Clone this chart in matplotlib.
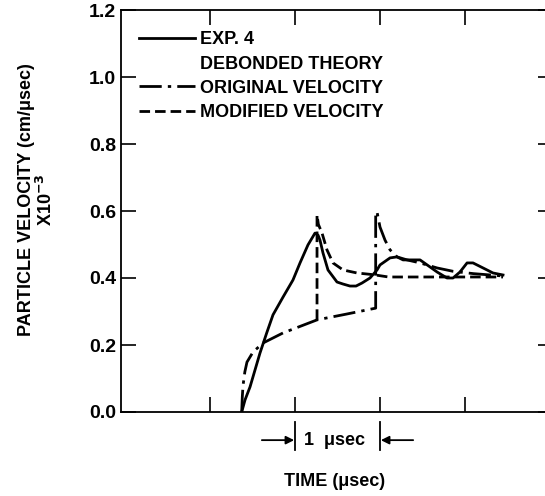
import matplotlib
matplotlib.use("Agg")
import matplotlib.pyplot as plt
from matplotlib.lines import Line2D

plt.rcParams['font.family'] = ['Liberation Sans', 'DejaVu Sans']
plt.rcParams['font.weight'] = 'bold'

# experiment 4 (time in usec, velocity x1e-3 cm/usec)
t_exp = [1.373, 1.412, 1.471, 1.529, 1.588, 1.667, 1.741, 1.859, 1.976, 2.059,
         2.153, 2.2, 2.235, 2.271, 2.294, 2.329, 2.388, 2.494, 2.565, 2.647,
         2.718, 2.788, 2.882, 2.965, 3.0, 3.118, 3.2, 3.271, 3.471, 3.588,
         3.671, 3.788, 3.859, 3.941, 4.024, 4.094, 4.212, 4.329, 4.447]
v_exp = [0.0, 0.036, 0.075, 0.125, 0.176, 0.236, 0.290, 0.343, 0.394, 0.445,
         0.499, 0.519, 0.534, 0.528, 0.513, 0.475, 0.424, 0.388, 0.382, 0.376,
         0.376, 0.385, 0.400, 0.424, 0.439, 0.460, 0.463, 0.454, 0.454, 0.433,
         0.418, 0.400, 0.400, 0.418, 0.445, 0.445, 0.430, 0.415, 0.409]

# debonded theory, original velocity
t_orig = [1.373, 1.380, 1.388, 1.41, 1.435, 1.506, 1.624, 1.859, 2.259, 2.6,
          2.949, 2.949, 2.965, 3.0, 3.059, 3.118, 3.2, 3.318, 3.471, 3.671,
          3.859, 4.1, 4.447]
v_orig = [0.0, 0.045, 0.078, 0.12, 0.149, 0.179, 0.206, 0.236, 0.275, 0.292,
          0.310, 0.597, 0.597, 0.552, 0.513, 0.484, 0.463, 0.454, 0.445, 0.430,
          0.420, 0.413, 0.406]

# debonded theory, modified velocity
t_mod = [2.259, 2.259, 2.275, 2.318, 2.376, 2.447, 2.565, 2.729, 2.918, 3.1, 4.447]
v_mod = [0.275, 0.588, 0.560, 0.534, 0.484, 0.445, 0.424, 0.415, 0.410, 0.403, 0.403]

yticks = [0.0, 0.2, 0.4, 0.6, 0.8, 1.0, 1.2]
ytick_labels = ['0.0', '0.2', '0.4', '0.6', '0.8', '1.0', '1.2']
xticks = [1, 2, 3, 4]

dashdot = (8, 2.2, 1.2, 2.2)
dashed = (3.8, 1.8)

fig = plt.figure(figsize=(5.45, 4.96), dpi=100)
ax = fig.add_axes([121 / 545, 84 / 496, 432 / 545, 402 / 496])

ax.plot(t_exp, v_exp, color='black', lw=2.0, solid_joinstyle='round')
ax.plot(t_orig, v_orig, color='black', lw=2.0, dashes=dashdot)
ax.plot(t_mod, v_mod, color='black', lw=2.0, dashes=dashed)

ax.set_xlim(-0.047, 5.035)
ax.set_ylim(0, 1.2)
ax.set_xticks(xticks)
ax.set_yticks(yticks)
ax.set_yticklabels(ytick_labels)
ax.tick_params(axis='both', direction='in', length=11, width=1.2,
               top=True, right=True, labelsize=14, pad=3.5)
ax.tick_params(axis='x', labelbottom=False)
for s in ax.spines.values():
    s.set_linewidth(1.3)

# legend with a heading row for the theory curves
handles = [Line2D([], [], color='black', lw=2.0),
           Line2D([], [], color='none'),
           Line2D([], [], color='black', lw=2.0, dashes=dashdot),
           Line2D([], [], color='black', lw=2.0, dashes=dashed)]
labels = ['EXP. 4', 'DEBONDED THEORY', 'ORIGINAL VELOCITY', 'MODIFIED VELOCITY']
ax.legend(handles, labels, loc='upper left', frameon=False, fontsize=13,
          handlelength=3.1, handletextpad=0.3, labelspacing=0.4,
          bbox_to_anchor=(0.025, 0.965), borderaxespad=0)

# 1 usec scale bracket under the axis
for xb in (2, 3):
    ax.plot([xb, xb], [-0.03, -0.113], color='black', lw=1.3, clip_on=False)
ax.annotate('', xy=(1.99, -0.084), xytext=(1.61, -0.084),
            arrowprops=dict(arrowstyle='-|>', color='black', lw=1.3,
                            mutation_scale=12, shrinkA=0, shrinkB=0),
            annotation_clip=False)
ax.annotate('', xy=(3.01, -0.084), xytext=(3.39, -0.084),
            arrowprops=dict(arrowstyle='-|>', color='black', lw=1.3,
                            mutation_scale=12, shrinkA=0, shrinkB=0),
            annotation_clip=False)
ax.text(2.47, -0.084, '1  μsec', ha='center', va='center', fontsize=13,
        clip_on=False)

fig.text(335 / 545, 1 - 481 / 496, 'TIME (μsec)', ha='center', va='center',
         fontsize=13)
fig.text(27 / 545, 1 - 200 / 496, 'PARTICLE VELOCITY (cm/μsec)', rotation=90,
         ha='center', va='center', fontsize=13)
fig.text(46 / 545, 1 - 200 / 496, 'X10$^{-3}$', rotation=90,
         ha='center', va='center', fontsize=13)

fig.savefig('out.png', dpi=100)
